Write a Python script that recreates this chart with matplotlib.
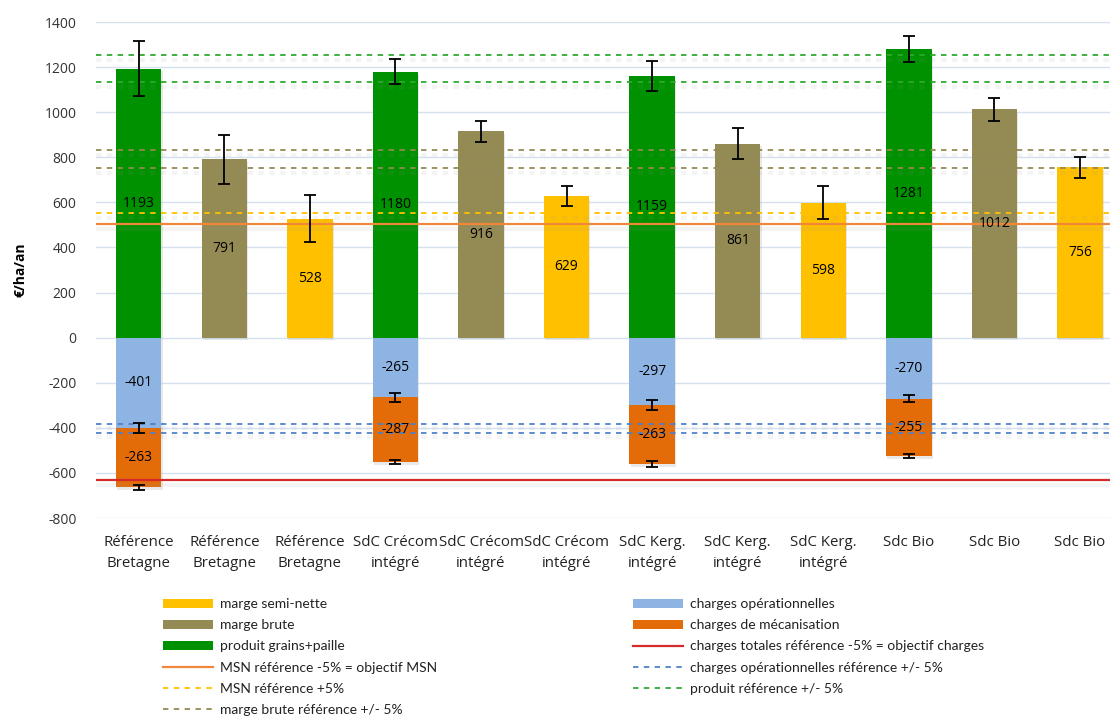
import matplotlib
matplotlib.use('Agg')
import matplotlib.pyplot as plt
import numpy as np
from matplotlib.patches import Patch
from matplotlib.lines import Line2D
import matplotlib.patheffects as pe

# ---------------- data ----------------
categories = ["Référence\nBretagne", "Référence\nBretagne", "Référence\nBretagne",
              "SdC Crécom\nintégré", "SdC Crécom\nintégré", "SdC Crécom\nintégré",
              "SdC Kerg.\nintégré", "SdC Kerg.\nintégré", "SdC Kerg.\nintégré",
              "Sdc Bio", "Sdc Bio", "Sdc Bio"]
produit = [1193, 1180, 1159, 1281]
produit_err = [123, 57, 66, 58]
marge_brute = [791, 916, 861, 1012]
marge_brute_err = [108, 47, 70, 51]
msn = [528, 629, 598, 756]
msn_err = [104, 43, 73, 47]
charges_op = [-401, -265, -297, -270]
charges_op_err = [24, 21, 22, 16]
charges_meca = [-263, -287, -263, -255]
charges_meca_err = [10, 10, 12, 8]
ref_produit = [1253, 1133]
ref_marge_brute = [831, 751]
ref_msn_plus = 554
ref_msn_minus = 502
ref_charges_op = [-381, -421]
ref_charges_tot = -631
yticks = [-800, -600, -400, -200, 0, 200, 400, 600, 800, 1000, 1200, 1400]

# ---------------- style ----------------
C_GREEN = '#009100'
C_BROWN = '#948A54'
C_YELLOW = '#FFC000'
C_BLUE = '#8EB4E3'
C_ORANGE = '#E36C09'
C_RED = '#D42A2A'
C_ORLINE = '#F0883C'
C_GDASH = '#2EAA2E'
C_BDASH = '#948A54'
C_YDASH = '#FFC000'
C_BLDASH = '#4F81C8'
DASH = (0, (3, 3))

plt.rcParams['font.family'] = ['Open Sans', 'DejaVu Sans']

W, H = 1110, 718
fig = plt.figure(figsize=(W / 100, H / 100), dpi=100)
ax_left, ax_right, ax_top, ax_bot = 96, 1110, 22, 518
ax = fig.add_axes([ax_left / W, 1 - ax_bot / H, (ax_right - ax_left) / W, (ax_bot - ax_top) / H])

x_all = np.arange(len(categories))
x_prod = x_all[0::3]
x_mb = x_all[1::3]
x_msn = x_all[2::3]
bw = 0.53

shadow = [pe.SimplePatchShadow(offset=(0.8, -2.0), shadow_rgbFace='#aaaaaa', alpha=0.25), pe.Normal()]

b_prod = ax.bar(x_prod, produit, bw, color=C_GREEN, zorder=2)
b_mb = ax.bar(x_mb, marge_brute, bw, color=C_BROWN, zorder=2)
b_msn = ax.bar(x_msn, msn, bw, color=C_YELLOW, zorder=2)
b_op = ax.bar(x_prod, charges_op, bw, color=C_BLUE, zorder=2)
b_meca = ax.bar(x_prod, charges_meca, bw, bottom=charges_op, color=C_ORANGE, zorder=2)
for bc in (b_prod, b_mb, b_msn, b_op, b_meca):
    for p in bc:
        p.set_path_effects(shadow)

# reference lines
lshadow = [pe.SimpleLineShadow(offset=(0, -3.5), shadow_color='#999999', alpha=0.10, linewidth=3), pe.Normal()]

for v in ref_produit:
    ax.axhline(v, color=C_GDASH, lw=1.3, ls=DASH, zorder=3, path_effects=lshadow)
for v in ref_marge_brute:
    ax.axhline(v, color=C_BDASH, lw=1.3, ls=DASH, zorder=3, path_effects=lshadow)
ax.axhline(ref_msn_plus, color=C_YDASH, lw=1.3, ls=DASH, zorder=3, path_effects=lshadow)
ax.axhline(ref_msn_minus, color=C_ORLINE, lw=1.6, zorder=3, path_effects=lshadow)
for v in ref_charges_op:
    ax.axhline(v, color=C_BLDASH, lw=1.3, ls=DASH, zorder=3, path_effects=lshadow)
ax.axhline(ref_charges_tot, color=C_RED, lw=1.6, zorder=3, path_effects=lshadow)

# error bars
ekw = dict(fmt='none', ecolor='black', elinewidth=1.3, capsize=4, capthick=1.3, zorder=5)
ax.errorbar(x_prod, produit, yerr=produit_err, **ekw)
ax.errorbar(x_mb, marge_brute, yerr=marge_brute_err, **ekw)
ax.errorbar(x_msn, msn, yerr=msn_err, **ekw)
ax.errorbar(x_prod, charges_op, yerr=charges_op_err, **ekw)
ax.errorbar(x_prod, np.array(charges_op) + np.array(charges_meca), yerr=charges_meca_err, **ekw)

# labels
for bc in (b_prod, b_mb, b_msn, b_op, b_meca):
    ax.bar_label(bc, label_type='center', fontsize=10, color='black', zorder=6)

# axes
ax.set_ylim(-800, 1400)
ax.set_xlim(-0.5, 11 + (1110 - 1080) / 85.5)
ax.set_yticks(yticks)
ax.set_yticklabels([str(v) for v in yticks], fontsize=10, color='#333333')
ax.set_xticks(x_all)
ax.set_xticklabels(categories, fontsize=10.8, color='#222222', linespacing=1.55)
ax.tick_params(axis='both', length=0)
ax.tick_params(axis='y', pad=14)
ax.tick_params(axis='x', pad=12)
ax.yaxis.grid(True, color='#D6E1F0', lw=1.0, zorder=0)
ax.set_axisbelow(True)
for s in ax.spines.values():
    s.set_visible(False)
ax.set_ylabel('€/ha/an', fontsize=10, fontweight='bold', labelpad=10)
ax.yaxis.set_label_coords(-0.068, 0.5)

# legends
left_handles = [
    Patch(facecolor=C_YELLOW, label='marge semi-nette'),
    Patch(facecolor=C_BROWN, label='marge brute'),
    Patch(facecolor=C_GREEN, label='produit grains+paille'),
    Line2D([], [], color=C_ORLINE, lw=1.6, label='MSN référence -5% = objectif MSN'),
    Line2D([], [], color=C_YDASH, lw=1.3, ls=DASH, label='MSN référence +5%'),
    Line2D([], [], color=C_BDASH, lw=1.3, ls=DASH, label='marge brute référence +/- 5%'),
]
right_handles = [
    Patch(facecolor=C_BLUE, label='charges opérationnelles'),
    Patch(facecolor=C_ORANGE, label='charges de mécanisation'),
    Line2D([], [], color=C_RED, lw=1.6, label='charges totales référence -5% = objectif charges'),
    Line2D([], [], color=C_BLDASH, lw=1.3, ls=DASH, label='charges opérationnelles référence +/- 5%'),
    Line2D([], [], color=C_GDASH, lw=1.3, ls=DASH, label='produit référence +/- 5%'),
]
prop = {'family': ['Lato', 'DejaVu Sans'], 'size': 10}
lkw = dict(frameon=False, prop=prop, handlelength=3.6, handleheight=0.6, handletextpad=0.5,
           labelspacing=0.66, borderpad=0, borderaxespad=0, loc='upper left')
leg1 = fig.legend(handles=left_handles, bbox_to_anchor=(163 / W, 1 - 598 / H), **lkw)
leg2 = fig.legend(handles=right_handles, bbox_to_anchor=(633 / W, 1 - 598 / H), **lkw)
for lg in (leg1, leg2):
    for t in lg.get_texts():
        t.set_color('#222222')

fig.savefig('out.png', dpi=100)
